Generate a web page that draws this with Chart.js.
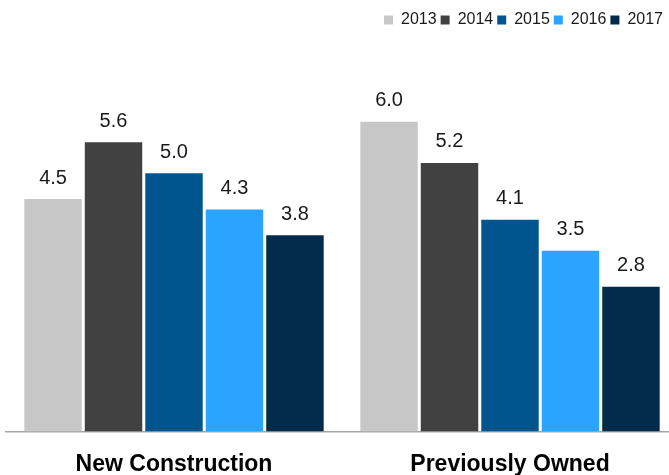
<!DOCTYPE html>
<html>
<head>
<meta charset="utf-8">
<script src="https://cdn.jsdelivr.net/npm/chart.js@4"></script>
<style>
  html, body { margin: 0; padding: 0; background: #fff; overflow: hidden; }
  #wrap { width: 678px; height: 475px; position: relative; }
</style>
</head>
<body>
<div id="wrap"><canvas id="salesChart"></canvas></div>
<script>
// categories and series
const categories = ['New Construction', 'Previously Owned'];
const years = ['2013', '2014', '2015', '2016', '2017'];
const values2013 = [4.5, 6.0];
const values2014 = [5.6, 5.2];
const values2015 = [5.0, 4.1];
const values2016 = [4.3, 3.5];
const values2017 = [3.8, 2.8];
const colors = ['#c7c7c7', '#414141', '#00558f', '#2aa4fe', '#022b4b'];

const seriesValues = [values2013, values2014, values2015, values2016, values2017];

// draws the value over each bar
const valueLabels = {
    id: 'valueLabels',
    afterDatasetsDraw(chart) {
        const ctx = chart.ctx;
        ctx.save();
        ctx.font = '20px "Liberation Sans", Arial, sans-serif';
        ctx.fillStyle = '#1a1a1a';
        ctx.textAlign = 'center';
        ctx.textBaseline = 'bottom';
        chart.data.datasets.forEach((ds, i) => {
            chart.getDatasetMeta(i).data.forEach((bar, j) => {
                ctx.fillText(ds.data[j].toFixed(1), bar.x, bar.y - 11);
            });
        });
        ctx.restore();
    }
};

// canvas is a bit wider than the window, so pull the legend back inside
const legendShift = {
    id: 'legendShift',
    afterLayout(chart) {
        chart.legend.left -= 11;
        chart.legend.right -= 11;
    }
};

const ctx = document.getElementById('salesChart').getContext('2d');
new Chart(ctx, {
    type: 'bar',
    data: {
        labels: categories,
        datasets: years.map((year, i) => ({
            label: year,
            data: seriesValues[i],
            backgroundColor: colors[i],
            borderWidth: 0,
            categoryPercentage: 0.9,
            barPercentage: 0.95
        }))
    },
    options: {
        responsive: true,
        maintainAspectRatio: false,
        animation: false,
        layout: { padding: { left: 6, right: 0, top: 8, bottom: -22 } },
        plugins: {
            legend: {
                align: 'end',
                labels: {
                    boxWidth: 9,
                    boxHeight: 9,
                    padding: 4,
                    color: '#1a1a1a',
                    font: { size: 16, family: '"Liberation Sans", Arial, sans-serif' }
                }
            },
            tooltip: { enabled: false }
        },
        scales: {
            x: {
                grid: { display: false, drawTicks: false },
                border: { color: '#a6a6a6', width: 1.5 },
                ticks: {
                    color: '#000',
                    padding: 19,
                    font: { size: 23, weight: 'bold', family: '"Liberation Sans", Arial, sans-serif' }
                }
            },
            y: {
                display: false,
                min: 0,
                max: 7.62
            }
        }
    },
    plugins: [valueLabels, legendShift]
});
</script>
</body>
</html>
